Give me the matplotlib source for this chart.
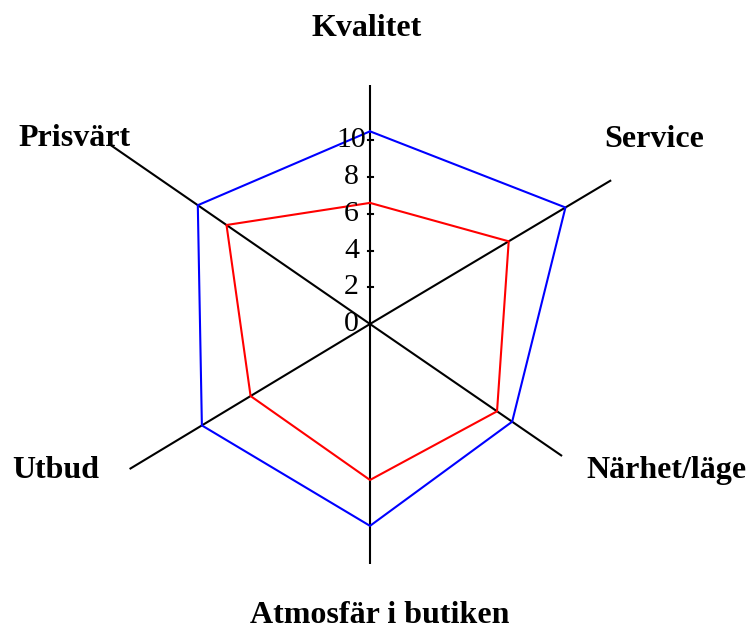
import numpy as np
import matplotlib
matplotlib.use("Agg")
import matplotlib.pyplot as plt

## radar data ##
categories = ["Kvalitet", "Service", "Närhet/läge", "Atmosfär i butiken", "Utbud", "Prisvärt"]
blue_vals = [10.5, 12.4, 9.4, 11.0, 10.7, 11.4]
red_vals = [6.6, 8.8, 8.4, 8.5, 7.6, 9.5]
tick_vals = [0, 2, 4, 6, 8, 10]
tick_labels = ["0", "2", "4", "6", "8", "10"]

# spoke directions (deg, clockwise from up) and lengths - the original drawing is skewed
spoke_ang = np.radians([0, 59.2, 124.5, 180, 238.9, 304.6])
spoke_len = [13.0, 15.3, 12.7, 13.1, 15.3, 17.3]

# label anchors (baseline, centred)
lab_xy = [(-0.18, 15.69), (15.48, 9.65), (16.13, -8.39),
          (0.54, -16.29), (-17.11, -8.39), (-16.08, 9.70)]

plt.rcParams['font.family'] = ['Liberation Serif', 'DejaVu Serif']

fig = plt.figure(figsize=(7.46, 6.29), dpi=100)
ax = fig.add_axes([0, 0, 1, 1])
px = 18.35  # pixels per unit
ax.set_xlim(-370 / px, 376 / px)
ax.set_ylim(-305 / px, 324 / px)
ax.axis('off')

def to_xy(r, a):
    return np.asarray(r) * np.sin(a), np.asarray(r) * np.cos(a)

# spokes
for L, a in zip(spoke_len, spoke_ang):
    x, y = to_xy([0, L], a)
    ax.plot(x, y, color='black', lw=1.5, solid_capstyle='butt')

# ticks on vertical axis
for t, lab in zip(tick_vals, tick_labels):
    if t > 0:
        ax.plot([-0.12, 0.18], [t, t], color='black', lw=1.5)
    ax.text(-1.0, t, lab, ha='center', va='center', fontsize=21.5)

# series
for vals, col in [(blue_vals, 'blue'), (red_vals, 'red')]:
    x, y = to_xy(vals, spoke_ang)
    ax.plot(np.append(x, x[0]), np.append(y, y[0]), color=col, lw=1.5)

for name, (lx, ly) in zip(categories, lab_xy):
    ax.text(lx, ly, name, ha='center', va='baseline', fontsize=23, fontweight='bold')

fig.savefig("out.png", dpi=100)
